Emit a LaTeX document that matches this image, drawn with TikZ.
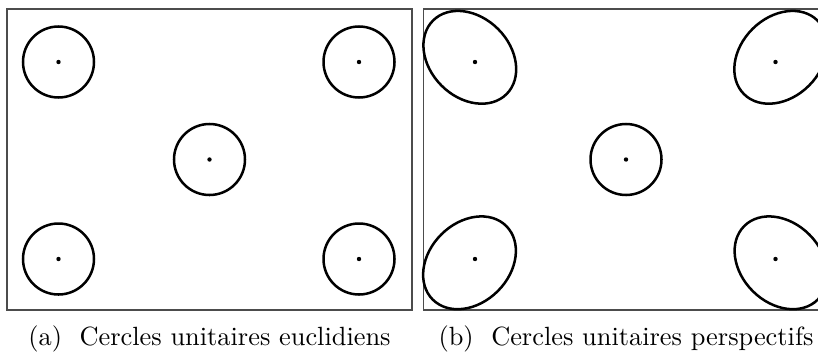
\documentclass[tikz,border=0pt]{standalone}
\usepackage{amsmath,amssymb}
\usepackage{tikz}
\usetikzlibrary{positioning}

\begin{document}
\begin{tikzpicture}[
    x=1.4cm, y=1.4cm,
    frame/.style={draw=black!70, line width=0.45pt},
    unitline/.style={draw=black, line width=1pt},
    caption/.style={anchor=base, inner sep=0pt, font=\fontsize{10.5}{12.6}\selectfont}
]
    \clip (-0.07,-0.43) rectangle (8.11,3.10);

    % (a) euclidean unit circles
    \draw[frame] (0,0) coordinate (pa0) rectangle (4.05,3.01) coordinate (pa1);
    \foreach \x/\y in {0.515/2.48, 3.52/2.48, 2.025/1.505, 0.515/0.51, 3.52/0.51} {
        \draw[unitline] (\x,\y) circle[radius=0.355];
        \fill (\x,\y) circle[radius=0.022];
    }
    \node[caption] (capa) at (2.025,-0.355) {(a)\ \ Cercles unitaires euclidiens};

    % (b) perspective unit circles
    \begin{scope}[shift={(4.165,0)}]
        \draw[frame] (0,0) coordinate (pb0) rectangle (4.05,3.01) coordinate (pb1);
        \foreach \x/\y/\ex/\ey/\ang in {0.515/2.48/0.463/2.527/-45, 3.52/2.48/3.572/2.527/45,
                                        0.515/0.51/0.460/0.472/45, 3.52/0.51/3.575/0.472/-45} {
            \draw[unitline, rotate around={\ang:(\ex,\ey)}] (\ex,\ey) ellipse[x radius=0.52, y radius=0.40];
            \fill (\x,\y) circle[radius=0.022];
        }
        \draw[unitline] (2.025,1.505) circle[radius=0.355];
        \fill (2.025,1.505) circle[radius=0.022];
        \node[caption] (capb) at (2.025,-0.355) {(b)\ \ Cercles unitaires perspectifs};
    \end{scope}
\end{tikzpicture}
\end{document}
